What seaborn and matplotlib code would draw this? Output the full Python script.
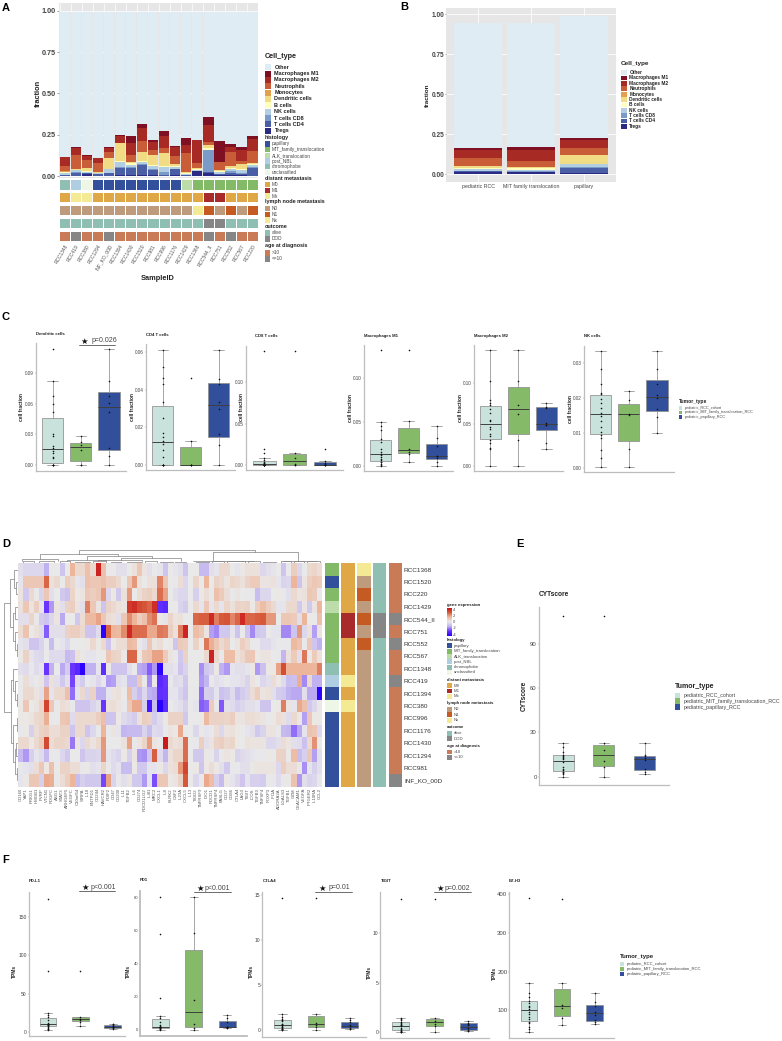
import numpy as np
import pandas as pd
import matplotlib
matplotlib.use("Agg")
import matplotlib.pyplot as plt
from matplotlib.colors import ListedColormap, LinearSegmentedColormap
from matplotlib.patches import Rectangle
import seaborn as sns

W, H = 782, 1041

# --- panel A / B data ---
samples = ["RCC1348", "RCC419", "RCC380", "RCC1294", "INF_KO_00D", "RCC1394", "RCC1430", "RCC1520", "RCC981",
           "RCC996", "RCC1176", "RCC1429", "RCC1368", "RCC544_II", "RCC751", "RCC552", "RCC567", "RCC220"]
cell_types = ["Other", "Macrophages M1", "Macrophages M2", "Neutrophils", "Monocytes", "Dendritic cells",
              "B cells", "NK cells", "T cells CD8", "T cells CD4", "Tregs"]
cell_colors = ["#E0ECF3", "#7F0F23", "#A82A25", "#C85D38", "#E2A04F", "#F1DB85",
               "#FEFEBE", "#B3CDE3", "#7A9BC8", "#4A5EA5", "#2B2A85"]

a_tregs = [.002, .003, .014, .003, .002, .006, .006, .006, .004, .002, .004, .002, .03, .02, .006, .004, .004, .002]
a_cd4 = [.004, .016, .004, .01, .016, .044, .044, .06, .034, .004, .036, .004, .002, .002, .004, .016, .008, .048]
a_cd8 = [.002, .004, .002, .002, .002, .002, .002, .004, .002, .016, .004, .002, 0, .135, .002, .012, .004, .004]
a_nk = [.01, .012, .006, .002, .02, .03, .016, .016, .02, .03, .012, .006, .004, .002, .012, .012, .02, .014]
a_b = [.004, .003, .004, .003, .004, .006, .008, .008, .004, .006, .004, .004, .006, .01, .004, .004, .004, .004]
a_dc = [.004, .002, .02, .004, .066, .112, .006, .05, .062, .082, .014, .006, .004, .02, .006, .01, .03, .004]
a_mono = [.002, 0, 0, 0, 0, 0, 0, 0, 0, 0, 0, 0, 0, 0, 0, 0, 0, 0]
a_neut = [.032, .09, .05, .054, .038, 0, .048, .07, .03, .03, .05, .118, .03, .02, .05, .085, .022, .078]
a_m2 = [.056, .04, .02, .03, .02, .045, .07, .075, .05, .07, .05, .045, .14, .1, 0, .03, .065, .07]
a_m1 = [.002, .005, .01, .002, .01, .005, .045, .025, .012, .032, .006, .043, .004, .05, .13, .02, .018, .016]
a_other = [.882, .825, .87, .89, .822, .75, .755, .686, .782, .728, .82, .77, .78, .641, .786, .807, .825, .76]

b_groups = ["pediatric RCC", "MIT family translocation", "papillary"]
b_tregs = [.012, .01, .004]
b_cd4 = [.005, .002, .036]
b_cd8 = [.003, .004, .002]
b_nk = [.01, .012, .018]
b_b = [.007, .012, .002]
b_dc = [.013, .004, .058]
b_mono = [.002, 0, 0]
b_neut = [.048, .04, .04]
b_m2 = [.05, .066, .055]
b_m1 = [.015, .02, .01]
b_other = [.78, .778, .762]

histology_levels = ["papillary", "MIT_family_translocation", "ALK_translocation", "post_NBL", "chromophobe", "unclassified"]
histology_colors = ["#32509B", "#82BA68", "#BCDDAA", "#B0CEE2", "#8EBFB2", "#EEF6E6"]
metastasis_levels = ["M0", "M1", "Mx"]
metastasis_colors = ["#E0A746", "#A82A2A", "#F5EA94"]
lymph_levels = ["N0", "N1", "Nx"]
lymph_colors = ["#BE9B7C", "#C55A22", "#F5EA94"]
outcome_levels = ["alive", "DOD"]
outcome_colors = ["#8EBFB2", "#868686"]
age_levels = [">10", "<=10"]
age_colors = ["#C97B58", "#868686"]

a_histology = ["chromophobe", "post_NBL", "unclassified"] + ["papillary"] * 8 + ["ALK_translocation"] + ["MIT_family_translocation"] * 6
a_metastasis = ["M0", "Mx", "Mx"] + ["M0"] * 10 + ["M1", "M1", "M0", "M0", "M0"]
a_lymph = ["N0"] * 12 + ["Nx", "N1", "N0", "N1", "N0", "N1"]
a_outcome = ["alive"] * 13 + ["DOD", "DOD", "alive", "alive", "alive"]
a_age = [">10", "<=10", ">10", ">10", "<=10"] + [">10"] * 8 + ["<=10", ">10", "<=10", ">10", ">10"]

# --- panel C box data: cohort, MIT, papillary ---
tumors = ["pediatric_RCC_cohort", "pediatric_MIT_family_translocation_RCC", "pediatric_papillary_RCC"]
tumor_colors = ["#C9E3DC", "#84BA68", "#314F9A"]

dendritic = [[0, 0, 0, 0, 0, .0065, .008, .012, .014, .0165, .0185, .0286, .03, .0513, .060, .067, .0816, .113],
             [0, 0, .015, .0197, .022, .0286],
             [0, .0091, .0163, .052, .0605, .067, .082, .113]]
cd4_t = [[0, 0, 0, 0, 0, 0, .004, .008, .0112, .013, .015, .017, .025, .0337, .043, .046, .052, .0614],
         [0, 0, 0, 0, .013, .046],
         [0, .0105, .0165, .03, .0335, .043, .0455, .0614]]
cd8_t = [[0, 0, 0, 0, 0, 0, 0, 0, .0005, .001, .002, .003, .004, .0055, .008, .014, .019, .137],
         [0, 0, .0008, .008, .0149, .137],
         [0, 0, 0, 0, .001, .0025, .005, .019]]
macro_m1 = [[0, .001, .002, .004, .0045, .006, .008, .010, .012, .0138, .016, .019, .0265, .0302, .041, .0456, .05, .1316],
            [.0046, .0135, .0158, .0192, .0506, .1316],
            [0, .0046, .0082, .0105, .0115, .0228, .031, .0449]]
macro_m2 = [[0, .02, .021, .027, .0315, .0355, .038, .044, .047, .0538, .0552, .0633, .068, .0731, .0754, .08, .102, .1395],
            [0, .0306, .063, .0733, .102, .1395],
            [.02, .027, .0486, .0495, .0513, .0702, .0714, .0754]]
nk_cells = [[.0002, .0029, .0052, .0086, .0095, .0103, .0118, .0135, .0149, .0157, .017, .0185, .0196, .0211, .0213, .0241, .0282, .0334],
            [.0002, .0053, .0151, .0155, .0194, .0219],
            [.01, .0146, .0169, .0199, .0209, .0241, .0282, .0334]]

# --- panel D data ---
rows_d = ["RCC1368", "RCC1520", "RCC220", "RCC1429", "RCC544_II", "RCC751", "RCC552", "RCC567", "RCC1348",
          "RCC419", "RCC1394", "RCC380", "RCC996", "RCC1176", "RCC1430", "RCC1294", "RCC981", "INF_KO_00D"]
genes = ["CD160", "YAP1", "PRKG1", "HMGB1", "PVRP", "VTCN1", "PDGFC", "ASG1", "STAT3", "ARHGEF5",
         "VEGFC", "C10orf54", "SIRPA", "IL10", "ENTPD1", "CD244", "HAVCR2", "PDIF2", "CD47", "CD200",
         "IL11", "TGFB2", "IL6", "CD274", "PDCD1LG2", "IL4I1", "MRC2", "CXCL1", "IL8", "KLRK2",
         "CSF2", "IL23A", "CXCL5", "IL13", "TIGD2", "TNFRSF9", "IDO1", "PDCD1", "TNFRSF4", "FASLG",
         "CD27", "CD86", "CTLA4", "LAG3", "TIGIT", "ICOS", "TGFB3", "TNFSF4", "FOXP3", "IFI1A",
         "ADORA2A", "LGALS3", "TGFB1", "GZM", "CEACAM1", "VEGFA", "PTGER2", "IL10RA", "CCL2"]
heat = [
    [-.3, -.5, -.5, -.5, -.5, -1.5, 0, 0, -1, 0, 1.5, .5, .5, 1.2, .5, 4, 1.2, 0, 0, -.3, -.3, 0, .3, 1, .2, -.3, 0, -.2, -1, 0,
     -.2, -.3, -1, 0, 0, -1.3, -1.3, -.3, -.2, .5, .5, 0, -.2, .1, .3, .3, .3, -.5, -.3, -.2, 0, -1, 0, .8, -.5, 0, .5, .6, .4],
    [-.2, 1, 1, 1, 1, 2.8, .3, .5, 0, .8, .5, -.2, -.3, 1.2, 1, 1, 1.2, .8, .8, .5, 0, 1, 2, .3, 0, .3, .3, 2.3, 1, 0,
     -.1, .4, -.5, 0, .6, 0, 1.5, 0, .7, .5, .2, .6, .5, .3, .7, .9, .9, .2, .2, .3, -.2, -.6, -.5, 1.5, -1, .2, .8, 1, .9],
    [.2, -.9, .5, -.1, -.6, 1, -.3, 0, -.9, -1.1, .6, .1, .2, 1, .8, 1, 2, -.5, .1, -.9, .3, 2, 0, .4, .7, .8, .5, 2.7, 1.8, 0,
     -.3, -.5, -.5, 0, -.7, .1, .4, -.1, 1.2, .9, .4, -.1, .2, 0, -.1, -.1, -1.2, -.5, -.5, 0, .1, -.1, -.3, .5, .2, .3, 1, .9, -.1],
    [.3, 1, .2, .8, -.2, -3, -1.8, .2, -.3, .7, .8, .2, -.3, 2.4, 1, .2, -1, .7, .5, .3, .2, 3.6, 3.8, 3.3, 3.1, 2.8, 3.8, -3.2, -3.4, 0,
     0, -.6, -.8, 0, .5, -.2, 1, -.2, .5, -.2, .6, .3, .7, .6, .7, .1, .8, 1.3, .8, .5, -.2, -.2, .5, .5, -.9, .2, -.9, .2, 1.5],
    [-.3, -.3, .6, -.1, -.8, -1, -.5, .2, -1.6, 0, 0, -.9, .4, 1.4, 1.4, 1.8, 1, .4, .3, -.3, 1, 2.2, 1.5, .8, 1.2, 2.2, 2.6, .1, -.2, .6,
     .2, .3, 0, 0, 2.8, 2.9, 2.9, 3.9, 2.4, 3, 3.1, 2.3, 2.8, 3.9, 2.8, 2.8, 2.9, 3, 2, 2, 0, 1, 1, .9, -.3, 1.5, 0, 0, 1.2],
    [.4, 1.1, 0, .3, -.4, -2.5, -.3, -.3, -.3, .7, .8, .8, .5, -1, -1, -.4, -4.4, 2.8, 1.5, 1.4, 2.2, 3.9, 2.7, 2.7, 2.7, 1.7, 1.7, 2.5, 2.4, .8,
     .3, 2.4, 4, 0, 1.3, 1, .2, -1.7, -2, -.9, -.9, -.2, -1, 0, -1, -2, -.9, -.8, 0, -.2, -.2, -2, -2, -1, 2, -.5, .3, -1.7, .2],
    [-.2, -.3, -1, -1, -.6, -.1, -1.2, -.1, -.2, -.5, 0, 0, 0, .1, .5, .1, .5, -1, .1, .4, .4, 1.4, 1.2, -.1, -.3, 1, .2, .4, 0, .1,
     -1, .9, .8, 0, .7, 0, 2.5, 1.6, 1, .5, .8, 0, .2, .8, .5, 0, 0, -.4, -.4, -.2, -.1, -.1, -.1, 1.4, 1.1, -.1, 1, -1, -1.5],
    [.1, .7, -.2, -.4, -.5, 0, -.4, -.4, -.4, -1.3, -1.1, .3, .1, -.2, -.2, 0, 0, 1, .7, .6, .1, 2.8, 2.8, .1, 1, 1.1, 1.8, 1.8, .9, .2,
     -.1, -.9, .7, 0, 0, 0, .5, 4, .5, -.1, 1.3, 1.3, .3, .5, 1, 1, .1, .2, .2, 0, -.1, -1.4, .3, .9, -.3, 2.5, .1, .9, .3],
    [-.3, -.4, -.1, -.4, -.2, -3, -1.5, 0, -1.6, -.8, -3, -3.4, -4.4, -1.5, -1.5, -.2, -3.2, .1, -1, -1, -1, -.3, 0, -1.6, -1.7, -2.5, -1.8, -4.4, -.3, -.3,
     -.2, -1, -.6, 0, 0, -1.9, -.9, -.7, .1, -1.5, -1.8, -.2, -.3, -.3, -.2, .1, -1.8, -1.1, .1, .1, 1.8, 3.2, 1.5, 1.5, 1.5, 1.5, 1.5, 1.5, 2.4],
    [0, .4, -.2, -.1, .2, -1, .3, -.3, -.9, -.3, -2.8, -.4, -.8, 0, -.2, -.5, -.1, -1.8, -1.7, -.3, -.2, -1.2, -1.2, .9, -.1, -2, .1, -3.4, -3, -.1,
     -.4, -.3, -.9, 0, 0, -1.8, -1.4, -.1, -.3, -.2, 0, -.2, -.2, -.3, -.6, .2, 0, -.5, -.3, .4, .1, -.4, -1.2, -1.1, 1.6, -2, .5, -1.5, -1.5],
    [0, .5, .5, .2, -.3, 1.8, -.2, .5, .5, 1.2, -2.3, -.2, .5, -.6, .7, -1.5, -1.5, -.2, .2, .3, 0, 1.3, -.7, -1.3, -.5, -1.5, -1.6, -3.2, -3.1, -.2,
     -.2, -.6, -1, 0, -.1, -2.3, -.7, -.8, -.2, -1.1, -.9, -.4, -1.2, -.8, -.6, .4, .8, .2, .3, -.3, -.8, -.9, -1.5, -1.6, -1.6, -.3, -1.6, -1.6, -4.4],
    [.1, 1, 0, .2, .6, 3.4, 1, -.1, .4, .3, -.1, -1, -1, -1, -.6, -.3, -3, .3, .4, .2, -.1, 1, 1.7, 1.7, -.7, -3.8, -1.2, -4.5, -3.3, 0,
     -.2, -.3, -.7, 0, -.2, -2.5, -2.3, .9, -.1, -2.6, -.3, -.4, -.7, -.5, -.3, -.3, -.2, -1, -1, 0, .1, 2.4, .2, -.2, 1.7, 1.2, -.9, -.5, .1],
    [.1, .1, .2, .5, .6, 1.6, -.1, -.1, 1, 1.1, -.4, .5, .5, .5, .5, .8, 1.2, -1, -1, .1, -.4, -.6, -.8, .3, .8, .7, -.8, -.4, .1, .7,
     .7, .7, -.9, 0, 0, .1, 1.4, .7, .7, .7, .6, .8, .2, .2, .4, .4, .3, .2, -.1, .1, .4, .3, -.4, .5, .1, -1.7, 1, .1, .1],
    [-.1, .1, -.7, .4, .7, .8, .4, .4, .7, .7, -1, .5, .5, -1, -.5, -.1, 1.5, -.1, .2, -.2, -1.4, -1.3, -1.3, -1.3, -.6, -1.2, -.4, -.5, -.1, .2,
     .1, 1.7, -.1, 0, -.5, .1, -.2, -.1, .4, -.5, .2, .3, .1, 0, -.2, -.3, -.9, -.6, .2, .2, -.1, -1.3, -1.4, -2.3, -1.6, -.2, 1.1, 1, -.5],
    [.5, .5, .1, .5, .9, 3.3, .4, .6, .6, .5, -2.2, .2, -.5, .5, .2, .5, 2, 0, 0, 0, .3, 1.8, -.1, .2, .6, 1.9, .2, -.1, 4.2, .5,
     .3, .4, 2.7, 0, -.1, .8, -.3, .2, .7, .8, .5, .6, .1, 0, .3, .2, .2, .2, -.5, -.5, -.3, .4, .2, -.3, -.4, -1.1, .5, 2.1, 0],
    [-1.3, -1.8, -.7, -.2, -.4, -1.3, -.1, -.1, -.5, -.9, 0, 0, -1, -.6, -.6, -.5, 2, -.2, -.4, -.6, .1, -.7, .2, -1.8, -1.9, -.9, 2.9, -.4, -1.4, .3,
     .6, .6, 2.7, 0, -.9, -.9, .1, -.1, -.6, -.1, .2, .1, -.6, -.4, -.3, -.2, -.1, -.1, .1, -.1, .7, .7, -.1, 1.3, -1.2, -.7, 1, -1.7, -.3],
    [-.1, -.2, -.3, .4, 1, .1, 1.2, 0, .7, .7, .4, .4, -.1, .1, -.3, -.2, .6, -.1, -.4, -.2, -1.2, -1.2, .1, -.9, -.9, -.2, -.2, .1, -.5, .3,
     .4, 2, 3.4, 0, .1, -1, .1, .4, .1, -.3, -.9, -.1, -.1, -.3, -.3, .1, .2, .2, .2, .2, -.5, .8, .4, .4, .1, -1.9, -.2, -.7, -.3],
    [-.2, .1, 1, 1, -.7, 1.7, 1.6, -.1, .4, .8, 1.5, -1.2, -.7, -.9, -.9, -.9, -2.8, 1.8, -.6, -.1, -.3, .2, -.9, -.9, -1.8, -.2, -2.7, 1, 1, .1,
     .2, .7, 3, 0, -.5, -.1, 1.7, 1.3, -.7, -1.3, .1, -.2, -.5, -1, -.2, -.7, -.7, -.8, -.1, -.1, -.4, -.1, .1, 1.1, -1.8, -.3, -.6, -.5, -.1],
]
d_histology = ["MIT_family_translocation", "papillary", "MIT_family_translocation", "ALK_translocation"] + ["MIT_family_translocation"] * 4 + \
    ["chromophobe", "post_NBL", "papillary", "unclassified"] + ["papillary"] * 6
d_metastasis = ["M0"] * 4 + ["M1", "M1", "M0", "M0", "M0", "Mx", "M0", "Mx"] + ["M0"] * 6
d_lymph = ["Nx", "N0", "N1", "N0", "N1", "N0", "N1"] + ["N0"] * 11
d_outcome = ["alive"] * 4 + ["DOD", "DOD"] + ["alive"] * 12
d_age = [">10"] * 4 + ["<=10", ">10", "<=10", ">10", ">10", "<=10"] + [">10"] * 7 + ["<=10"]

# dendrogram merges: left, right, top, left foot, right foot
col_tree = [(1, 3, 2, 0, 0), (4, 7, 2.5, 0, 0), (8, 10, 2, 0, 0), (11, 14, 1.5, 0, 0), (14.5, 17, 2.2, 0, 0),
            (18, 20, 1.5, 0, 0), (21, 24, 1.8, 0, 0), (24.5, 27, 2, 0, 0), (27.5, 30, 1.6, 0, 0), (30.5, 32.5, 1.8, 0, 0),
            (34.5, 37, 1.5, 0, 0), (37.5, 40, 2, 0, 0), (40.5, 44, 2.6, 0, 0), (44.5, 47, 2, 0, 0), (47.5, 50, 1.8, 0, 0),
            (51, 53, 2.5, 0, 0), (53.5, 55.5, 2.7, 0, 0), (56, 58.5, 2, 0, 0),
            (.7, 7.7, 4, 2, 2.5), (9.5, 17, 3, 2, 2), (15.5, 24, 3, 2, 2), (20, 31.5, 5, 3, 2), (13.3, 25.9, 7.5, 3, 5),
            (4.2, 19.4, 9.5, 4, 7.5), (34, 45.8, 2.8, 2, 2), (51.3, 58, 2.8, 2, 2), (37.8, 54.3, 11, 2.8, 2.8),
            (11.8, 46, 13.5, 9.5, 11)]
row_tree = [(1.5, 2.5, 2, 0, 0), (.5, 2, 4, 0, 2), (3.5, 4.5, 3, 0, 0), (6.5, 7.5, 1.5, 0, 0), (5.5, 7, 3, 0, 1.5),
            (4, 6.25, 5, 3, 3), (1.25, 5.1, 8, 4, 5), (10.5, 11.5, 1.5, 0, 0), (9.5, 11, 3, 0, 1.5), (8.5, 10.25, 5, 0, 3),
            (12.5, 13.5, 1.5, 0, 0), (16.5, 17.5, 1.5, 0, 0), (14.5, 15.5, 2, 0, 0), (15, 17, 3, 2, 1.5), (13, 16, 5, 1.5, 3),
            (9.4, 14.5, 7, 5, 5), (3.2, 12, 14, 8, 7)]

# --- panel E / F box data ---
cyt_score = [[0, 1.8, 2.5, 3, 3.4, 4.2, 5, 6.3, 9.7, 11.9, 12.5, 13.5, 14.2, 14.6, 17, 20, 23, 109],
             [0, 6.3, 10.8, 18, 22.6, 109],
             [1.8, 3.4, 5.2, 11, 12.6, 14, 14.8, 23]]
pd_l1 = [[3, 3.5, 4, 5.5, 7, 8, 8.5, 9, 9.5, 10.5, 11, 12, 16, 19.6, 22, 25, 79, 174],
         [8, 13, 16, 17, 20, 79],
         [4, 5, 6, 6.5, 7.5, 8.5, 10, 11]]
pd1 = [[0, .3, .6, .9, 1.1, 1.5, 1.6, 1.7, 1.75, 1.85, 2, 3, 4.5, 7.17, 8.5, 19, 58, 80.4],
       [0, .8, 3.2, 17.8, 58.6, 80.4],
       [.8, 1.2, 1.5, 1.7, 1.9, 4.6, 7, 9]]
ctla4 = [[0, .05, .1, .15, .2, .3, .35, .42, .5, .6, .65, .72, 1.0, 1.13, 1.3, 1.5, 1.8, 14.6],
         [0, .35, .55, .85, 1.8, 14.6],
         [.1, .18, .3, .45, .55, .9, 1.1, 1.35]]
tigit = [[0, .02, .05, .1, .15, .2, .3, .45, .6, .68, .75, .85, .95, 1.02, 1.2, 1.3, 1.45, 13.5],
         [.03, .6, .85, 1.1, 1.45, 13.5],
         [.1, .13, .18, .4, .68, .85, .95, 1.08]]
b7_h3 = [[45, 52, 58, 66, 70, 78, 84, 90, 96, 104, 108, 112, 118, 125, 135, 144, 170, 390],
         [61, 79, 105, 115, 170, 389],
         [65, 70, 74, 88, 96, 112, 122, 144]]

sns.set_theme(style="white")
plt.rcParams["font.family"] = ["Liberation Sans", "DejaVu Sans"]
plt.rcParams["axes.unicode_minus"] = False

fig = plt.figure(figsize=(W / 100, H / 100), dpi=100, facecolor="white")

# overlay in pixel coordinates for legends, titles and letters
ov = fig.add_axes([0, 0, 1, 1], zorder=10)
ov.set_xlim(0, W)
ov.set_ylim(H, 0)
ov.axis("off")
ov.patch.set_alpha(0)


def px_axes(x0, ytop, x1, ybot):
    return fig.add_axes([x0 / W, 1 - ybot / H, (x1 - x0) / W, (ybot - ytop) / H])


def label(x, y, s, size=4, bold=False, color="#222222", **kw):
    ov.text(x, y, s, fontsize=size, fontweight="bold" if bold else "normal", color=color, va="center", **kw)


def legend_block(title, y_title, ys, labels, colors, x, x_text, size, bold_items=False, swatch=5, title_size=None, item_color="#444444"):
    label(x, y_title, title, size=title_size or size, bold=True)
    step = ys[1] - ys[0]
    for y, lab, col in zip(ys, labels, colors):
        ov.add_patch(Rectangle((x, y - step / 2 + .2), swatch, step - .4, facecolor=col, edgecolor="none"))
        label(x_text, y, lab, size=size, bold=bold_items, color="#222222" if bold_items else item_color)


def stacked_bars(ax, columns, shrink):
    n = len(columns[0])
    frames = [pd.DataFrame({"pos": range(n), "frac": col, "cell": name}) for name, col in zip(cell_types, columns)]
    df = pd.concat(frames)
    sns.histplot(data=df, x="pos", weights="frac", hue="cell", hue_order=cell_types,
                 palette=dict(zip(cell_types, cell_colors)), multiple="stack", discrete=True, shrink=shrink,
                 linewidth=0, alpha=1, legend=False, ax=ax)
    ax.set_facecolor("#E6E6E6")
    ax.grid(True, color="white", linewidth=.6)
    ax.set_axisbelow(True)
    for s in ax.spines.values():
        s.set_visible(False)


def strip(rect, codes, levels, colors, vertical=False, linewidth=0, **kw):
    ax = px_axes(*rect)
    vals = np.array([levels.index(c) for c in codes])
    vals = vals.reshape(-1, 1) if vertical else vals.reshape(1, -1)
    sns.heatmap(vals, cmap=ListedColormap(colors), vmin=-.5, vmax=len(levels) - .5, cbar=False,
                linewidths=linewidth, linecolor="white", ax=ax, **{"xticklabels": False, "yticklabels": False, **kw})
    ax.set_xlabel("")
    ax.set_ylabel("")
    return ax


def box_panel(values, rect, ylim, yticks, fmt, title, title_pos, ylabel, ylabel_pos, tick_size=3.3, width=.75, whis=1.5,
              xmax=2.6, spine_w=.9, ylabel_size=3.5, title_size=3.1):
    ax = px_axes(*rect)
    df = pd.concat([pd.DataFrame({"tumor": t, "val": v}) for t, v in zip(tumors, values)])
    sns.boxplot(data=df, x="tumor", y="val", hue="tumor", order=tumors, hue_order=tumors,
                palette=dict(zip(tumors, tumor_colors)), dodge=False, width=width, whis=whis, showfliers=False,
                saturation=1, linewidth=.55, linecolor="#8f8f8f", medianprops={"color": "#3f3f3f", "linewidth": .7},
                legend=False, ax=ax)
    sns.stripplot(data=df, x="tumor", y="val", order=tumors, jitter=False, size=1.15, color="#111111", linewidth=0, ax=ax, zorder=5)
    ax.set_xlim(-.6, xmax)
    ax.set_ylim(*ylim)
    ax.set_yticks(yticks)
    ax.set_yticklabels([fmt.format(t) for t in yticks])
    ax.set_xticklabels([])
    ax.set_xlabel("")
    ax.set_ylabel("")
    ax.tick_params(axis="both", length=.8, width=.3, color="#777777", labelcolor="#444444", labelsize=tick_size, pad=.6, bottom=True, left=True)
    sns.despine(ax=ax)
    ax.spines["left"].set_color("#BDBDBD")
    ax.spines["bottom"].set_color("#BDBDBD")
    ax.spines["left"].set_linewidth(spine_w)
    ax.spines["bottom"].set_linewidth(spine_w)
    label(title_pos[0], title_pos[1], title, size=title_size, bold=True)
    label(ylabel_pos[0], ylabel_pos[1], ylabel, size=ylabel_size, bold=True, rotation=90, ha="center")
    return ax


def signif(x0, x1, y, x_star, x_text, text):
    ov.plot([x0, x1], [y, y], color="#555555", linewidth=.6)
    ov.text(x_star, y - 3.6, "★", fontsize=6, color="#111111", family="DejaVu Sans", ha="center", va="center")
    label(x_text, y - 4.2, text, size=5, color="#444444")


# panel letters
for x, y, s in [(2, 8, "A"), (400, 7, "B"), (2, 317, "C"), (2, 544, "D"), (516, 544, "E"), (2, 860, "F")]:
    label(x, y, s, size=8, bold=True, color="black")

# --- A ---
ax_a = px_axes(59, 3, 258, 178)
stacked_bars(ax_a, [a_other, a_m1, a_m2, a_neut, a_mono, a_dc, a_b, a_nk, a_cd8, a_cd4, a_tregs], .93)
ax_a.set_xlim(-.55, 17.5)
ax_a.set_ylim(-.012, 1.048)
ax_a.set_xticks([])
ax_a.set_yticks([0, .25, .5, .75, 1])
ax_a.set_yticklabels(["0.00", "0.25", "0.50", "0.75", "1.00"], fontweight="bold")
ax_a.tick_params(axis="y", labelsize=5.2, labelcolor="#444444", length=1.5, width=.4, color="#555555", pad=1, left=True)
ax_a.set_ylabel("")
ax_a.set_xlabel("")
ax_a.vlines(np.arange(18) - .5, 1.0, 1.048, color="white", linewidth=.5)
ax_a.axhline(1.0, color="white", linewidth=.5)
label(38, 93, "fraction", size=5.3, bold=True, rotation=90, ha="center")
label(158, 278, "SampleID", size=5.3, bold=True, ha="center")

strip((59, 179, 258, 190), a_histology, histology_levels, histology_colors, linewidth=.4)
strip((59, 191.7, 258, 202.3), a_metastasis, metastasis_levels, metastasis_colors, linewidth=.4)
strip((59, 204.7, 258, 215.3), a_lymph, lymph_levels, lymph_colors, linewidth=.4)
strip((59, 217.7, 258, 228.3), a_outcome, outcome_levels, outcome_colors, linewidth=.4)
ax_age = strip((59, 230.7, 258, 241.3), a_age, age_levels, age_colors, linewidth=.4, xticklabels=samples)
ax_age.tick_params(axis="x", labelsize=3.5, labelcolor="#555555", length=0, pad=1.5)
plt.setp(ax_age.get_xticklabels(), rotation=60, ha="right", rotation_mode="anchor")

legend_block("Cell_type", 57, [67.3, 73.7, 80, 86.3, 92.7, 99, 105.3, 111.7, 118, 124.3, 130.7], cell_types, cell_colors,
             264.7, 274.5, 4, bold_items=True, swatch=6.3, title_size=5.2)
legend_block("histology", 137, [144, 149.7, 155.4, 161, 166.6, 172.3], histology_levels, histology_colors, 264.7, 272, 3.4, swatch=5.3, title_size=3.9)
legend_block("distant metastasis", 178, [184.7, 190.3, 196], metastasis_levels, metastasis_colors, 264.7, 272, 3.4, swatch=5.3, title_size=3.9)
legend_block("lymph node metastasis", 202, [208.7, 214.4, 220], lymph_levels, lymph_colors, 264.7, 272, 3.4, swatch=5.3, title_size=3.9)
legend_block("outcome", 227, [233, 239], outcome_levels, outcome_colors, 264.7, 272, 3.4, swatch=5.3, title_size=3.9)
legend_block("age at diagnosis", 246, [253, 259], age_levels, age_colors, 264.7, 272, 3.4, swatch=5.3, title_size=3.9)

# --- B ---
ax_b = px_axes(446, 8, 616, 181.7)
stacked_bars(ax_b, [b_other, b_m1, b_m2, b_neut, b_mono, b_dc, b_b, b_nk, b_cd8, b_cd4, b_tregs], .9)
ax_b.set_xlim(-.608, 2.605)
ax_b.set_ylim(-.048, 1.04)
ax_b.set_xticks([0, 1, 2])
ax_b.set_xticklabels(b_groups)
ax_b.set_yticks([0, .25, .5, .75, 1])
ax_b.set_yticklabels(["0.00", "0.25", "0.50", "0.75", "1.00"], fontweight="bold")
ax_b.tick_params(axis="y", labelsize=4.7, labelcolor="#444444", length=.8, width=.4, color="#555555", pad=.4, left=True)
ax_b.tick_params(axis="x", labelsize=3.8, labelcolor="#444444", length=0, pad=1.5)
ax_b.set_xlabel("")
ax_b.set_ylabel("")
label(427.5, 95, "fraction", size=4.6, bold=True, rotation=90, ha="center")
legend_block("Cell_type", 64, [72.7, 78, 83.4, 88.8, 94.2, 99.6, 105, 110.4, 115.6, 121, 126.3], cell_types, cell_colors,
             621, 629.3, 3.4, bold_items=True, swatch=5.5, title_size=4.6)

# --- C ---
box_panel(dendritic, (35.7, 342.7, 126, 470.7), (-.0055, .1193), [0, .03, .06, .09], "{:.2f}", "Dendritic cells", (36, 334), "cell fraction", (21.5, 407))
box_panel(cd4_t, (146, 344.3, 235.3, 470), (-.0027, .0642), [0, .02, .04, .06], "{:.2f}", "CD4 T cells", (146, 335), "cell fraction", (132, 407))
box_panel(cd8_t, (246, 345.7, 343.3, 470.3), (-.0064, .1438), [0, .05, .10], "{:.2f}", "CD8 T cells", (255, 336), "cell fraction", (241.5, 407))
box_panel(macro_m1, (364, 345, 453.3, 471.3), (-.0065, .1376), [0, .05, .10], "{:.2f}", "Macrophages M1", (364, 336), "cell fraction", (350, 408))
box_panel(macro_m2, (473.7, 345, 563.3, 471), (-.0065, .146), [0, .05, .10], "{:.2f}", "Macrophages M2", (473.7, 335.5), "cell fraction", (460, 408), whis=2.0)
box_panel(nk_cells, (583.7, 345.7, 674, 472.3), (-.0013, .035), [0, .01, .02, .03], "{:.2f}", "NK cells", (584, 336), "cell fraction", (570, 409))
signif(79, 115, 344.7, 84.5, 91.5, "p=0.026")
legend_block("Tumor_type", 401.7, [408.3, 412.5, 416.7], tumors, tumor_colors, 678.7, 684.3, 2.7, swatch=3.3, title_size=3.6)

# --- D ---
ax_col = px_axes(18.3, 549, 322.3, 563.3)
ax_col.set_xlim(0, 59)
ax_col.set_ylim(0, 14.3)
ax_col.axis("off")
for a, b, top, fa, fb in col_tree:
    ax_col.plot([a, a, b, b], [fa, top, top, fb], color="#808080", linewidth=.5)
ax_row = px_axes(3.8, 563.3, 18.3, 786.7)
ax_row.set_xlim(14.5, 0)
ax_row.set_ylim(18, 0)
ax_row.axis("off")
for a, b, top, fa, fb in row_tree:
    ax_row.plot([fa, top, top, fb], [a, a, b, b], color="#808080", linewidth=.5)

heat_cmap = LinearSegmentedColormap.from_list("heat", ["#2A00FF", "#6A35FF", "#C0B2F0", "#EAEAEA", "#EDB69B", "#D65A3A", "#C80A14"])
ax_heat = px_axes(18.3, 563.3, 322.3, 786.7)
cax = px_axes(446.7, 607.7, 451.7, 635.7)
sns.heatmap(np.array(heat), cmap=heat_cmap, vmin=-4.5, vmax=4.5, xticklabels=genes, yticklabels=False, ax=ax_heat, cbar_ax=cax,
            cbar_kws={"ticks": [-4, -2, 0, 2, 4]})
ax_heat.tick_params(axis="x", labelsize=3.1, labelcolor="#555555", length=0, pad=1, rotation=90)
cax.tick_params(labelsize=3, labelcolor="#444444", length=0, pad=1)
label(446.7, 605.3, "gene expression", size=3.1, bold=True)

strip((325, 563.3, 339, 786.7), d_histology, histology_levels, histology_colors, vertical=True)
strip((341, 563.3, 355, 786.7), d_metastasis, metastasis_levels, metastasis_colors, vertical=True)
strip((357, 563.3, 371, 786.7), d_lymph, lymph_levels, lymph_colors, vertical=True)
strip((373, 563.3, 386.3, 786.7), d_outcome, outcome_levels, outcome_colors, vertical=True)
ax_dage = strip((389, 563.3, 402.3, 786.7), d_age, age_levels, age_colors, vertical=True, yticklabels=rows_d)
ax_dage.yaxis.tick_right()
ax_dage.tick_params(axis="y", labelsize=4.6, labelcolor="#333333", length=0, pad=1.2, rotation=0)

legend_block("histology", 639.7, [645.7, 651.1, 656.5, 661.9, 667.2, 672.4], histology_levels, histology_colors, 446.7, 453.7, 3.1)
legend_block("distant metastasis", 679.7, [685.7, 691, 696.2], metastasis_levels, metastasis_colors, 446.7, 453.7, 3.1)
legend_block("lymph node metastasis", 703.3, [709.3, 714.7, 720], lymph_levels, lymph_colors, 446.7, 453.7, 3.1)
legend_block("outcome", 727.3, [733.3, 738.7], outcome_levels, outcome_colors, 446.7, 453.7, 3.1)
legend_block("age at diagnosis", 746, [752, 757.3], age_levels, age_colors, 446.7, 453.7, 3.1)

# --- E ---
box_panel(cyt_score, (538.7, 607.3, 669, 785), (-5.66, 115), [0, 30, 60, 90], "{:d}", "CYTscore", (538.7, 595), "CYTscore", (524.7, 696),
          tick_size=4.3, width=.51, ylabel_size=4.8, title_size=4.8)
legend_block("Tumor_type", 686.3, [695.3, 701.1, 707], tumors, tumor_colors, 675, 684, 3.8, swatch=5, title_size=5)

# --- F ---
box_panel(pd_l1, (28.7, 891.7, 125, 1036), (-5.2, 183), [0, 50, 100, 150], "{:d}", "PD-L1", (28.7, 881), "TPMs", (14.7, 971.7), width=.51, xmax=2.38, tick_size=3.6)
box_panel(pd1, (140.3, 891, 247.3, 1036.3), (-4, 84.2), [0, 20, 40, 60, 80], "{:d}", "PD1", (140, 880), "TPMs", (128.7, 971), width=.5, spine_w=1.3, tick_size=3)
box_panel(ctla4, (262.3, 891.7, 365.7, 1037), (-.74, 15.33), [0, 5, 10, 15], "{:d}", "CTLA4", (262.7, 881), "TPMs", (251.3, 971.7), width=.5, xmax=2.48, tick_size=3.6)
box_panel(tigit, (380.3, 891.7, 488.7, 1037.7), (-.57, 14.2), [0, 5, 10], "{:d}", "TIGIT", (381, 881), "TPMs", (369.3, 972.7), width=.5, tick_size=3.6)
box_panel(b7_h3, (509.3, 891.7, 614.3, 1038.3), (27.6, 407), [100, 200, 300, 400], "{:d}", "B7-H3", (509, 881), "TPMs", (494.7, 973.3), width=.5, tick_size=4.3)
signif(78.7, 115.3, 891.3, 85.7, 90.7, "p<0.001")
signif(194, 230.7, 892.3, 200.7, 205, "p<0.001")
signif(315.3, 352.3, 892, 322.7, 328.3, "p=0.01")
signif(434.3, 470.7, 892.3, 440, 444.3, "p=0.002")
legend_block("Tumor_type", 956.7, [964.3, 969, 973.7], tumors, tumor_colors, 619.5, 627, 3, swatch=4, title_size=4.3)

ov.set_xlim(0, W)
ov.set_ylim(H, 0)
fig.savefig("out.png", dpi=100)
